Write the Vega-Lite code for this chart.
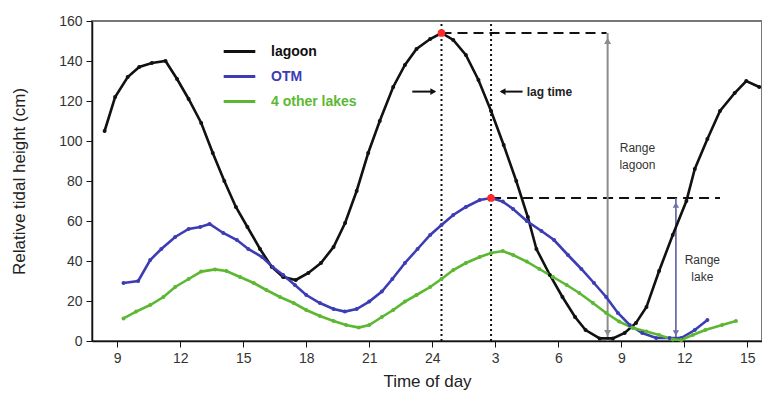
{
  "$schema": "https://vega.github.io/schema/vega-lite/v6.json",
  "width": 670,
  "height": 320,
  "autosize": "none",
  "padding": {"left": 92, "top": 21, "right": 0, "bottom": 59},
  "background": "white",
  "config": {
    "font": "Liberation Sans",
    "view": {"stroke": "#777", "strokeWidth": 2},
    "axis": {"grid": false, "labelOverlap": false, "domainColor": "#111", "domainWidth": 1.5, "tickColor": "#111", "tickSize": 6, "labelFontSize": 14, "labelColor": "#333", "titleFontSize": 17, "titleFontWeight": "normal", "titleColor": "#222"}
  },
  "datasets": {
    "tide": [
      {"series": "lagoon", "t": 8.4, "v": 105}, {"series": "lagoon", "t": 8.9, "v": 122}, {"series": "lagoon", "t": 9.5, "v": 132}, {"series": "lagoon", "t": 10.05, "v": 137}, {"series": "lagoon", "t": 10.65, "v": 139}, {"series": "lagoon", "t": 11.3, "v": 140}, {"series": "lagoon", "t": 11.85, "v": 131}, {"series": "lagoon", "t": 12.4, "v": 121}, {"series": "lagoon", "t": 13.0, "v": 109}, {"series": "lagoon", "t": 13.55, "v": 94}, {"series": "lagoon", "t": 14.1, "v": 80}, {"series": "lagoon", "t": 14.65, "v": 67}, {"series": "lagoon", "t": 15.2, "v": 57}, {"series": "lagoon", "t": 15.8, "v": 46}, {"series": "lagoon", "t": 16.36, "v": 37}, {"series": "lagoon", "t": 16.9, "v": 32}, {"series": "lagoon", "t": 17.5, "v": 30.5}, {"series": "lagoon", "t": 18.1, "v": 34}, {"series": "lagoon", "t": 18.7, "v": 39}, {"series": "lagoon", "t": 19.3, "v": 47}, {"series": "lagoon", "t": 19.85, "v": 59}, {"series": "lagoon", "t": 20.4, "v": 75}, {"series": "lagoon", "t": 20.95, "v": 94}, {"series": "lagoon", "t": 21.5, "v": 110}, {"series": "lagoon", "t": 22.14, "v": 127}, {"series": "lagoon", "t": 22.7, "v": 138}, {"series": "lagoon", "t": 23.25, "v": 146}, {"series": "lagoon", "t": 23.9, "v": 151}, {"series": "lagoon", "t": 24.44, "v": 154}, {"series": "lagoon", "t": 25.0, "v": 150.5}, {"series": "lagoon", "t": 25.6, "v": 143}, {"series": "lagoon", "t": 26.2, "v": 130.5}, {"series": "lagoon", "t": 26.8, "v": 115}, {"series": "lagoon", "t": 27.4, "v": 98}, {"series": "lagoon", "t": 28.0, "v": 80}, {"series": "lagoon", "t": 28.55, "v": 62}, {"series": "lagoon", "t": 28.96, "v": 46}, {"series": "lagoon", "t": 29.6, "v": 33}, {"series": "lagoon", "t": 30.2, "v": 22}, {"series": "lagoon", "t": 30.8, "v": 12}, {"series": "lagoon", "t": 31.3, "v": 5.5}, {"series": "lagoon", "t": 31.97, "v": 1.3}, {"series": "lagoon", "t": 32.6, "v": 1.3}, {"series": "lagoon", "t": 33.16, "v": 4}, {"series": "lagoon", "t": 33.7, "v": 9}, {"series": "lagoon", "t": 34.2, "v": 17}, {"series": "lagoon", "t": 34.8, "v": 35}, {"series": "lagoon", "t": 35.45, "v": 53}, {"series": "lagoon", "t": 36.1, "v": 70}, {"series": "lagoon", "t": 36.5, "v": 86}, {"series": "lagoon", "t": 37.1, "v": 101}, {"series": "lagoon", "t": 37.7, "v": 115}, {"series": "lagoon", "t": 38.4, "v": 124}, {"series": "lagoon", "t": 38.95, "v": 130}, {"series": "lagoon", "t": 39.57, "v": 127},
      {"series": " OTM", "t": 9.3, "v": 29}, {"series": " OTM", "t": 10.0, "v": 30}, {"series": " OTM", "t": 10.57, "v": 40.5}, {"series": " OTM", "t": 11.1, "v": 46}, {"series": " OTM", "t": 11.76, "v": 52}, {"series": " OTM", "t": 12.4, "v": 56}, {"series": " OTM", "t": 12.95, "v": 57}, {"series": " OTM", "t": 13.4, "v": 58.5}, {"series": " OTM", "t": 14.05, "v": 54}, {"series": " OTM", "t": 14.7, "v": 50.5}, {"series": " OTM", "t": 15.24, "v": 46}, {"series": " OTM", "t": 15.9, "v": 42}, {"series": " OTM", "t": 16.4, "v": 37}, {"series": " OTM", "t": 16.9, "v": 33}, {"series": " OTM", "t": 17.46, "v": 28}, {"series": " OTM", "t": 18.0, "v": 23}, {"series": " OTM", "t": 18.65, "v": 19}, {"series": " OTM", "t": 19.3, "v": 16}, {"series": " OTM", "t": 19.84, "v": 14.7}, {"series": " OTM", "t": 20.4, "v": 16}, {"series": " OTM", "t": 21.0, "v": 19.7}, {"series": " OTM", "t": 21.6, "v": 24.7}, {"series": " OTM", "t": 22.1, "v": 31}, {"series": " OTM", "t": 22.7, "v": 39}, {"series": " OTM", "t": 23.3, "v": 46}, {"series": " OTM", "t": 23.9, "v": 53}, {"series": " OTM", "t": 24.44, "v": 58}, {"series": " OTM", "t": 25.0, "v": 63}, {"series": " OTM", "t": 25.6, "v": 67}, {"series": " OTM", "t": 26.26, "v": 70.5}, {"series": " OTM", "t": 26.8, "v": 71.5}, {"series": " OTM", "t": 27.36, "v": 69.7}, {"series": " OTM", "t": 27.85, "v": 66}, {"series": " OTM", "t": 28.5, "v": 60}, {"series": " OTM", "t": 29.2, "v": 55}, {"series": " OTM", "t": 29.8, "v": 50.5}, {"series": " OTM", "t": 30.46, "v": 43}, {"series": " OTM", "t": 31.1, "v": 36}, {"series": " OTM", "t": 31.7, "v": 29}, {"series": " OTM", "t": 32.28, "v": 22}, {"series": " OTM", "t": 32.84, "v": 14}, {"series": " OTM", "t": 33.4, "v": 8}, {"series": " OTM", "t": 34.0, "v": 4}, {"series": " OTM", "t": 34.66, "v": 1.5}, {"series": " OTM", "t": 35.3, "v": 1.5}, {"series": " OTM", "t": 35.85, "v": 1.5}, {"series": " OTM", "t": 36.5, "v": 5.5}, {"series": " OTM", "t": 37.1, "v": 10.5},
      {"series": "4 other lakes", "t": 9.3, "v": 11.3}, {"series": "4 other lakes", "t": 9.9, "v": 14.7}, {"series": "4 other lakes", "t": 10.57, "v": 18}, {"series": "4 other lakes", "t": 11.2, "v": 22}, {"series": "4 other lakes", "t": 11.76, "v": 27}, {"series": "4 other lakes", "t": 12.4, "v": 31}, {"series": "4 other lakes", "t": 13.0, "v": 34.7}, {"series": "4 other lakes", "t": 13.66, "v": 35.8}, {"series": "4 other lakes", "t": 14.2, "v": 35}, {"series": "4 other lakes", "t": 14.85, "v": 32}, {"series": "4 other lakes", "t": 15.5, "v": 29}, {"series": "4 other lakes", "t": 16.1, "v": 25.5}, {"series": "4 other lakes", "t": 16.75, "v": 22}, {"series": "4 other lakes", "t": 17.4, "v": 19}, {"series": "4 other lakes", "t": 18.0, "v": 15.5}, {"series": "4 other lakes", "t": 18.65, "v": 12.5}, {"series": "4 other lakes", "t": 19.3, "v": 10}, {"series": "4 other lakes", "t": 19.9, "v": 8}, {"series": "4 other lakes", "t": 20.5, "v": 6.7}, {"series": "4 other lakes", "t": 21.0, "v": 8}, {"series": "4 other lakes", "t": 21.6, "v": 12}, {"series": "4 other lakes", "t": 22.14, "v": 15.5}, {"series": "4 other lakes", "t": 22.7, "v": 19.7}, {"series": "4 other lakes", "t": 23.25, "v": 23}, {"series": "4 other lakes", "t": 23.9, "v": 27}, {"series": "4 other lakes", "t": 24.44, "v": 31}, {"series": "4 other lakes", "t": 25.0, "v": 35.5}, {"series": "4 other lakes", "t": 25.6, "v": 39}, {"series": "4 other lakes", "t": 26.26, "v": 42}, {"series": "4 other lakes", "t": 26.8, "v": 44}, {"series": "4 other lakes", "t": 27.36, "v": 45}, {"series": "4 other lakes", "t": 27.85, "v": 43}, {"series": "4 other lakes", "t": 28.5, "v": 39.7}, {"series": "4 other lakes", "t": 29.1, "v": 36}, {"series": "4 other lakes", "t": 29.75, "v": 32}, {"series": "4 other lakes", "t": 30.4, "v": 28}, {"series": "4 other lakes", "t": 31.0, "v": 24}, {"series": "4 other lakes", "t": 31.65, "v": 19}, {"series": "4 other lakes", "t": 32.28, "v": 14}, {"series": "4 other lakes", "t": 32.9, "v": 9.7}, {"series": "4 other lakes", "t": 33.55, "v": 6.5}, {"series": "4 other lakes", "t": 34.2, "v": 4.7}, {"series": "4 other lakes", "t": 34.8, "v": 3}, {"series": "4 other lakes", "t": 35.45, "v": 0.8}, {"series": "4 other lakes", "t": 35.85, "v": 0.5}, {"series": "4 other lakes", "t": 36.4, "v": 3}, {"series": "4 other lakes", "t": 37.0, "v": 5.5}, {"series": "4 other lakes", "t": 37.8, "v": 8}, {"series": "4 other lakes", "t": 38.46, "v": 10}
    ],
    "peaks": [{"t": 24.44, "v": 154}, {"t": 26.8, "v": 71.5}],
    "vlines": [{"t": 24.44, "v0": 0, "v1": 160}, {"t": 26.8, "v0": 0, "v1": 160}],
    "hlines": [{"t0": 24.44, "t1": 32.3, "v": 154}, {"t0": 26.8, "t1": 37.7, "v": 71.5}],
    "rangeLagoon": [{"t": 32.35, "v0": 0, "v1": 154}],
    "rangeLagoonHeads": [{"t": 32.35, "v": 150, "dir": "up"}, {"t": 32.35, "v": 4, "dir": "down"}],
    "rangeLake": [{"t": 35.6, "v0": 0, "v1": 71.5}],
    "rangeLakeHeads": [{"t": 35.6, "v": 68, "dir": "up"}, {"t": 35.6, "v": 4, "dir": "down"}],
    "lagArrows": [{"t0": 23.05, "t1": 24.1, "v": 124.7}, {"t0": 27.3, "t1": 28.3, "v": 124.7}],
    "lagHeads": [{"t": 24.05, "v": 124.7, "dir": "right"}, {"t": 27.35, "v": 124.7, "dir": "left"}],
    "labels": [
      {"t": 28.5, "v": 124.5, "txt": "lag time", "grp": "lag"},
      {"t": 33.77, "v": 96.5, "txt": "Range", "grp": "range"},
      {"t": 33.77, "v": 88, "txt": "lagoon", "grp": "range"},
      {"t": 36.86, "v": 40.5, "txt": "Range", "grp": "range"},
      {"t": 36.86, "v": 32, "txt": "lake", "grp": "range"}
    ]
  },
  "layer": [
    {
      "data": {"name": "vlines"},
      "mark": {"type": "rule", "color": "#111", "strokeWidth": 2, "strokeDash": [2, 3]},
      "encoding": {
        "x": {"field": "t", "type": "quantitative", "scale": {"domain": [7.8, 39.7], "nice": false, "zero": false},
          "axis": {"title": "Time of day", "values": [9, 12, 15, 18, 21, 24, 27, 30, 33, 36, 39], "tickCount": 20, "labelExpr": "datum.value <= 24 ? datum.value : datum.value - 24", "labelPadding": 4, "titlePadding": 8}},
        "y": {"field": "v0", "type": "quantitative", "scale": {"domain": [0, 160], "nice": false},
          "axis": {"title": "Relative tidal height (cm)", "values": [0, 20, 40, 60, 80, 100, 120, 140, 160], "tickCount": 12, "labelOverlap": false, "labelPadding": 4, "titlePadding": 30}},
        "y2": {"field": "v1"}}
    },
    {
      "data": {"name": "hlines"},
      "mark": {"type": "rule", "color": "#111", "strokeWidth": 2, "strokeDash": [10, 6]},
      "encoding": {"x": {"field": "t0", "type": "quantitative"}, "x2": {"field": "t1"}, "y": {"field": "v", "type": "quantitative"}}
    },
    {
      "data": {"name": "rangeLagoon"},
      "mark": {"type": "rule", "color": "#8c8c8c", "strokeWidth": 2},
      "encoding": {"x": {"field": "t", "type": "quantitative"}, "y": {"field": "v0", "type": "quantitative"}, "y2": {"field": "v1"}}
    },
    {
      "data": {"name": "rangeLagoonHeads"},
      "mark": {"type": "point", "filled": true, "color": "#8c8c8c", "size": 50, "opacity": 1},
      "encoding": {"x": {"field": "t", "type": "quantitative"}, "y": {"field": "v", "type": "quantitative"},
        "shape": {"field": "dir", "type": "nominal", "scale": {"domain": ["up", "down", "left", "right"], "range": ["triangle-up", "triangle-down", "triangle-left", "triangle-right"]}, "legend": null}}
    },
    {
      "data": {"name": "rangeLake"},
      "mark": {"type": "rule", "color": "#7070a8", "strokeWidth": 1.8},
      "encoding": {"x": {"field": "t", "type": "quantitative"}, "y": {"field": "v0", "type": "quantitative"}, "y2": {"field": "v1"}}
    },
    {
      "data": {"name": "rangeLakeHeads"},
      "mark": {"type": "point", "filled": true, "color": "#7070a8", "size": 40, "opacity": 1},
      "encoding": {"x": {"field": "t", "type": "quantitative"}, "y": {"field": "v", "type": "quantitative"},
        "shape": {"field": "dir", "type": "nominal", "legend": null}}
    },
    {
      "data": {"name": "lagArrows"},
      "mark": {"type": "rule", "color": "#111", "strokeWidth": 2},
      "encoding": {"x": {"field": "t0", "type": "quantitative"}, "x2": {"field": "t1"}, "y": {"field": "v", "type": "quantitative"}}
    },
    {
      "data": {"name": "lagHeads"},
      "mark": {"type": "point", "filled": true, "color": "#111", "size": 45, "opacity": 1},
      "encoding": {"x": {"field": "t", "type": "quantitative"}, "y": {"field": "v", "type": "quantitative"},
        "shape": {"field": "dir", "type": "nominal", "legend": null}}
    },
    {
      "data": {"name": "tide"},
      "mark": {"type": "line", "strokeWidth": 2.6, "point": {"filled": true, "size": 16, "opacity": 1}},
      "encoding": {
        "x": {"field": "t", "type": "quantitative"},
        "y": {"field": "v", "type": "quantitative"},
        "color": {"field": "series", "type": "nominal",
          "scale": {"domain": ["lagoon", " OTM", "4 other lakes"], "range": ["#111111", "#3c3cb4", "#5cb832"]},
          "legend": {"title": null, "orient": "none", "legendX": 130, "legendY": 13, "symbolType": "stroke", "symbolSize": 1000, "symbolStrokeWidth": 3, "labelFontSize": 14, "labelFontWeight": "bold", "rowPadding": -8, "labelOffset": 14,
            "encode": {"labels": {"update": {"fill": {"scale": "color", "field": "value"}}}}}
        }
      }
    },
    {
      "data": {"name": "peaks"},
      "mark": {"type": "point", "filled": true, "color": "#ff2a2a", "size": 60, "opacity": 1},
      "encoding": {"x": {"field": "t", "type": "quantitative"}, "y": {"field": "v", "type": "quantitative"}}
    },
    {
      "data": {"name": "labels"},
      "transform": [{"filter": "datum.grp == 'lag'"}],
      "mark": {"type": "text", "align": "left", "baseline": "middle", "fontSize": 12, "fontWeight": "bold", "color": "#222"},
      "encoding": {"x": {"field": "t", "type": "quantitative"}, "y": {"field": "v", "type": "quantitative"}, "text": {"field": "txt"}}
    },
    {
      "data": {"name": "labels"},
      "transform": [{"filter": "datum.grp == 'range'"}],
      "mark": {"type": "text", "align": "center", "baseline": "middle", "fontSize": 12, "color": "#333"},
      "encoding": {"x": {"field": "t", "type": "quantitative"}, "y": {"field": "v", "type": "quantitative"}, "text": {"field": "txt"}}
    }
  ]
}
